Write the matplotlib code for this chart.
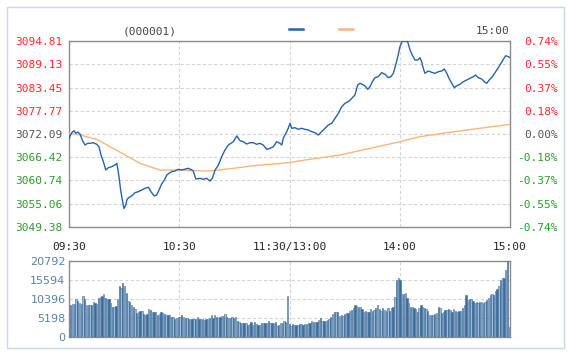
import numpy as np
import matplotlib
matplotlib.use('Agg')
import matplotlib.pyplot as plt
from matplotlib.patches import Rectangle
from matplotlib.lines import Line2D

# price axis levels (left) and the matching percent labels (right)
price_ticks = [3049.38, 3055.06, 3060.74, 3066.42, 3072.09, 3077.77, 3083.45, 3089.13, 3094.81]
pct_labels = ['-0.74%', '-0.55%', '-0.37%', '-0.18%', '0.00%', '0.18%', '0.37%', '0.55%', '0.74%']
prev_close = 3072.09

time_ticks = [0, 60, 120, 180, 240]
time_labels = ['09:30', '10:30', '11:30/13:00', '14:00', '15:00']

vol_ticks = [0, 5198, 10396, 15594, 20792]

# index line (minutes from 09:30, price)
line_min = [0, 1.5, 2.7, 3.8, 4.7, 6.0, 7.2, 8.7, 10.2, 11.4, 13.2, 15.1, 16.3, 17.4, 18.7, 20.0,
            21.4, 23.2, 25.0, 26.0, 26.5, 27.2, 28.1, 29.0, 29.9, 30.9, 31.6, 32.7, 34.1, 35.9,
            37.7, 39.6, 41.4, 43.2, 44.6, 46.4, 47.7, 49.0, 50.4, 51.9, 53.2, 54.4, 55.9, 57.7,
            59.5, 61.3, 64.9, 66.8, 67.6, 69.0, 71.3, 73.1, 74.9, 76.7, 78.0, 79.5, 81.3, 83.1,
            84.9, 86.7, 89.4, 91.3, 93.1, 94.9, 96.7, 98.5, 100.3, 102.2, 103.9, 105.7, 107.6,
            109.4, 111.2, 113.0, 114.8, 115.8, 116.6, 118.5, 119.3, 120.3, 121.2, 123.0, 124.8,
            126.6, 128.4, 130.2, 132.1, 133.9, 135.7, 137.5, 139.3, 141.1, 143.0, 144.8, 146.6,
            148.4, 150.2, 152.0, 153.9, 155.6, 157.1, 158.4, 159.6, 161.1, 162.6, 163.8, 165.1,
            166.5, 168.3, 170.2, 172.0, 173.8, 175.2, 176.5, 177.8, 178.9, 180.1, 181.4, 182.9,
            184.3, 185.6, 186.8, 188.3, 189.8, 191.0, 191.9, 192.8, 193.7, 195.5, 197.4, 199.2,
            201.0, 202.8, 204.2, 205.6, 206.8, 208.3, 209.7, 211.0, 212.8, 214.6, 216.4, 218.2,
            220.0, 221.3, 222.7, 224.6, 226.0, 227.3, 228.7, 230.4, 232.2, 234.0, 235.8, 237.7,
            239.1, 240]
line_price = [3071.04, 3072.41, 3072.90, 3072.27, 3072.58, 3072.09, 3070.63, 3069.41, 3069.82,
              3069.82, 3069.97, 3069.58, 3068.99, 3066.97, 3065.33, 3063.30, 3063.86, 3064.11,
              3064.52, 3064.94, 3063.72, 3061.67, 3058.42, 3055.97, 3053.90, 3054.75, 3056.15,
              3056.63, 3056.95, 3057.76, 3058.00, 3058.42, 3058.83, 3059.08, 3058.00, 3056.95,
              3057.20, 3058.42, 3059.88, 3060.86, 3062.08, 3062.50, 3062.89, 3063.06, 3063.47,
              3063.30, 3063.72, 3063.30, 3063.06, 3061.10, 3061.27, 3061.03, 3061.27, 3060.61,
              3061.27, 3063.30, 3064.52, 3066.55, 3068.19, 3069.41, 3070.21, 3071.61, 3070.46,
              3070.21, 3069.65, 3069.97, 3069.97, 3069.58, 3069.82, 3069.41, 3068.36, 3068.60,
              3068.99, 3070.21, 3069.82, 3069.41, 3071.04, 3072.66, 3073.49, 3074.71, 3073.49,
              3073.63, 3073.24, 3073.49, 3073.24, 3073.07, 3072.66, 3072.41, 3071.85, 3072.66,
              3073.49, 3074.29, 3074.71, 3075.93, 3077.15, 3078.76, 3079.59, 3079.98, 3080.81,
              3081.62, 3084.06, 3084.48, 3084.23, 3083.82, 3083.01, 3083.65, 3084.87, 3085.85,
              3086.09, 3087.07, 3086.68, 3085.85, 3086.09, 3086.92, 3088.95, 3090.90, 3093.42,
              3094.81, 3094.81, 3094.64, 3092.61, 3091.39, 3090.17, 3090.17, 3090.73, 3089.75,
              3088.14, 3086.92, 3087.48, 3087.16, 3086.92, 3087.31, 3087.48, 3087.97, 3086.92,
              3085.70, 3084.48, 3083.40, 3083.89, 3084.23, 3084.87, 3085.28, 3085.70, 3086.09,
              3086.51, 3085.85, 3085.53, 3084.87, 3084.48, 3085.28, 3086.09, 3087.31, 3088.53,
              3089.92, 3091.22, 3090.98, 3090.73]

# average price line
avg_min = [0, 6.0, 15.1, 22.3, 29.6, 38.6, 49.5, 60.4, 73.1, 78.5, 89.4, 100.3, 111.2, 119.3,
           131.2, 147.5, 163.8, 180.1, 191.0, 205.6, 223.7, 240]
avg_price = [3072.27, 3071.85, 3070.80, 3068.99, 3067.21, 3064.94, 3063.30, 3063.30, 3063.06,
             3063.13, 3063.72, 3064.35, 3064.77, 3065.08, 3065.92, 3066.97, 3068.60, 3070.21,
             3071.44, 3072.41, 3073.49, 3074.46]

# volume per bar, left to right
volume = [8755, 8938, 8938, 10306, 9850, 9211, 9029, 11309, 10306, 8755, 8755, 8755, 8755, 9667,
          9211, 8938, 10579, 11035, 11218, 11674, 10579, 10306, 10306, 9211, 8299, 8299, 8573,
          10306, 14045, 13315, 14683, 14045, 11947, 9850, 9667, 8755, 8299, 7661, 6658, 6931,
          7114, 7114, 6293, 6019, 6202, 7570, 7387, 6931, 6749, 6749, 6019, 6293, 6749, 6475,
          6202, 6019, 6019, 6019, 5381, 5563, 4925, 5290, 5563, 5563,
          6019, 5381, 5290, 5290, 4925, 4834, 4834, 4834, 4834, 5381,
          4925, 4834, 4834, 4651, 4834, 4925, 5107, 6019, 5107, 6019,
          5563, 5107, 5563, 5746, 5746, 6202, 5563, 5107, 5290, 5563,
          5290, 5472, 4378, 4195, 3922, 3922, 3739, 3739, 3283, 3466,
          4195, 3283, 4195, 3466, 3283, 3283, 3739, 3739, 3739, 3922,
          4378, 3922, 3739, 3922, 4195, 3010, 3283, 3739, 3922, 4378,
          4195, 11218,
          3557, 3010, 3466, 3283, 3283, 3283, 3466, 3466, 3283, 3466,
          3557, 3739, 3739, 4378, 4195, 4195, 4013, 4651, 5107, 4469,
          4469, 4469, 4651, 4925, 5563, 6202, 6749, 6931, 6749, 5837,
          6019, 5746, 6384, 6475, 6475, 7114, 7387, 7843, 8755, 8482,
          8117, 8299, 7661, 6931, 7205, 6749, 6931, 7661, 7114, 7387,
          7843, 8755, 7661, 7114, 7843, 7387, 7114, 7843, 7114, 8026,
          8299, 11035, 15595, 16051, 15595,
          11674, 11674, 11947, 10579, 9211, 8299, 8299, 8026, 7661, 6931,
          8026, 8755, 8299, 7843, 7661, 7114, 6019, 6019, 6019, 6202,
          6475, 8299, 8026, 6475, 6931, 7387, 7387, 7570, 7387, 6749,
          7570, 7114, 6931, 7114, 7114, 8026, 8755, 11491, 10123, 10306,
          10306, 9941, 9211, 9667, 9394, 9667, 9667, 9211, 9667, 10123,
          10762, 11491, 11674, 11491, 12586, 13133, 14045, 15595, 16051, 16234,
          18331, 20792, 2650]

W, H = 571, 357
MONO = 'DejaVu Sans Mono'
GRID = '#d4d4d4'
SPINE = '#8c8c8c'

fig = plt.figure(figsize=(W / 100, H / 100), dpi=100)
fig.patch.set_facecolor('white')

# outer light blue frame
fig.patches.append(Rectangle((7 / W, (H - 348) / H), 557 / W, 341 / H, transform=fig.transFigure,
                             fill=False, edgecolor='#c9d8ea', linewidth=1.0))


def px_axes(left, top, right, bottom):
    return fig.add_axes([left / W, (H - bottom) / H, (right - left) / W, (bottom - top) / H])


# ---- price panel ----
ax = px_axes(69, 41, 510, 227)
ax.plot(avg_min, avg_price, color='#f7b77c', linewidth=1.0, zorder=3)
ax.plot(line_min, line_price, color='#2563ad', linewidth=1.0, zorder=4)
ax.set_xlim(0, 240)
ax.set_ylim(price_ticks[0], price_ticks[-1])
ax.set_yticks(price_ticks)
ax.set_yticklabels([f'{p:.2f}' for p in price_ticks])
ax.set_xticks(time_ticks)
ax.set_xticklabels(time_labels)
ax.grid(True, color=GRID, linestyle=(0, (3, 2)), linewidth=0.8)
ax.tick_params(axis='y', length=0, pad=4.5, labelsize=8, labelcolor='#555555')
ax.tick_params(axis='x', length=0, pad=11, labelsize=8, labelcolor='#222222')
for lbl in ax.get_yticklabels() + ax.get_xticklabels():
    lbl.set_family(MONO)
for lbl, p in zip(ax.get_yticklabels(), price_ticks):
    if p > prev_close:
        lbl.set_color('#ff2a2a')
    elif p < prev_close:
        lbl.set_color('#2e9a2e')
for s in ax.spines.values():
    s.set_color(SPINE)
    s.set_linewidth(1.0)

ax2 = ax.twinx()
ax2.set_ylim(price_ticks[0], price_ticks[-1])
ax2.set_yticks(price_ticks)
ax2.set_yticklabels(pct_labels)
ax2.tick_params(axis='y', length=0, pad=34.5, labelsize=8)
for lbl, p in zip(ax2.get_yticklabels(), price_ticks):
    lbl.set_family(MONO)
    lbl.set_ha('right')
    if p > prev_close:
        lbl.set_color('#ff2a2a')
    elif p < prev_close:
        lbl.set_color('#2e9a2e')
    else:
        lbl.set_color('#555555')
for s in ax2.spines.values():
    s.set_visible(False)

# header texts and legend marks
fig.text(150 / W, (H - 31) / H, '(000001)', family=MONO, fontsize=8, color='#444444',
         ha='center', va='center')
fig.text(509 / W, (H - 31) / H, '15:00', family=MONO, fontsize=8, color='#444444',
         ha='right', va='center')
fig.lines.append(Line2D([289 / W, 303 / W], [(H - 28.5) / H] * 2, transform=fig.transFigure,
                        color='#2563ad', linewidth=1.8))
fig.lines.append(Line2D([339 / W, 353 / W], [(H - 28.5) / H] * 2, transform=fig.transFigure,
                        color='#f7b77c', linewidth=1.8))

# ---- volume panel ----
axv = px_axes(69, 261, 510, 337)
n = len(volume)
bar_x = np.linspace(1, 239.6, n)
bar_colors = ['#3d6c9b' if i % 2 == 0 else '#9db8d3' for i in range(n)]
axv.bar(bar_x, volume, width=0.72, color=bar_colors, edgecolor='#3d6c9b', linewidth=0.4, zorder=3)
axv.set_xlim(0, 240)
axv.set_ylim(0, vol_ticks[-1])
axv.set_xticks(time_ticks)
axv.set_xticklabels([])
axv.set_yticks(vol_ticks)
axv.set_yticklabels([str(v) for v in vol_ticks])
axv.grid(True, color=GRID, linestyle=(0, (3, 2)), linewidth=0.8)
axv.tick_params(axis='both', length=0)
axv.tick_params(axis='y', pad=2.5, labelsize=8, labelcolor='#5b80a8')
for s in axv.spines.values():
    s.set_color(SPINE)
    s.set_linewidth(1.0)

fig.savefig('out.png', dpi=100)
